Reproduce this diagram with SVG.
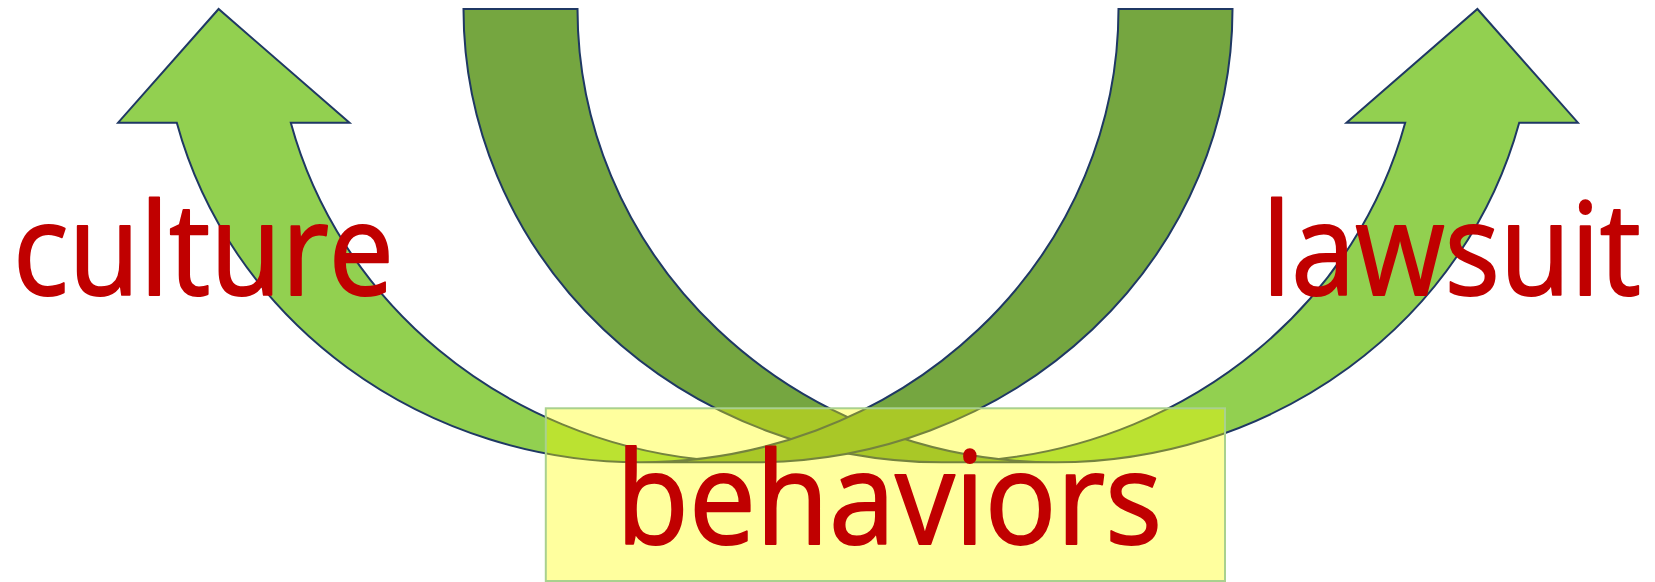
<svg xmlns="http://www.w3.org/2000/svg" width="1655" height="582" viewBox="0 0 1655 582">
  <style>
    .light { fill: #92D050; stroke: none; }
    .dark { fill: #75A640; stroke: none; }
    .edge { fill: none; stroke: #1F3864; stroke-width: 2; stroke-linejoin: miter; }
    .label { font-family: "Open Sans", "Noto Sans", "DejaVu Sans", sans-serif; font-size: 128px; fill: #C00000; stroke: #C00000; stroke-width: 2; stroke-linejoin: round; }
    .box { fill: #FFFF00; fill-opacity: 0.38; stroke: #A9D18E; stroke-width: 2; }
  </style>
  <rect width="1655" height="582" fill="#FFFFFF"/>
  <g id="connectors">
    <g id="arrow-right">
      <path class="light" d="M 1477.4,9 L 1577.9,122.7 L 1519.2,122.7 A 478.5 453.3 0 0 1 1056,462.3 L 942,462.3 A 478.5 453.3 0 0 0 1405.2,122.7 L 1346.5,122.7 Z"/>
      <path class="dark" d="M 942,462.3 A 478.5 453.3 0 0 1 463.5,9 L 577.5,9 A 478.5 453.3 0 0 0 1056,462.3 Z"/>
      <path class="edge" d="M 999,459.07 A 478.5 453.3 0 0 0 1405.2,122.7 L 1346.5,122.7 L 1477.4,9 L 1577.9,122.7 L 1519.2,122.7 A 478.5 453.3 0 0 1 1056,462.3 L 942,462.3 A 478.5 453.3 0 0 1 463.5,9 L 577.5,9 A 478.5 453.3 0 0 0 1056,462.3"/>
    </g>
    <g id="arrow-left">
      <path class="light" d="M 218.6,9 L 118.1,122.7 L 176.8,122.7 A 478.5 453.3 0 0 0 640,462.3 L 754,462.3 A 478.5 453.3 0 0 1 290.8,122.7 L 349.5,122.7 Z"/>
      <path class="dark" d="M 754,462.3 A 478.5 453.3 0 0 0 1232.5,9 L 1118.5,9 A 478.5 453.3 0 0 1 640,462.3 Z"/>
      <path class="edge" d="M 697,459.07 A 478.5 453.3 0 0 1 290.8,122.7 L 349.5,122.7 L 218.6,9 L 118.1,122.7 L 176.8,122.7 A 478.5 453.3 0 0 0 640,462.3 L 754,462.3 A 478.5 453.3 0 0 0 1232.5,9 L 1118.5,9 A 478.5 453.3 0 0 1 640,462.3"/>
    </g>
  </g>
  <g id="culture">
    <text class="label" x="13" y="295" textLength="381" lengthAdjust="spacingAndGlyphs">culture</text>
  </g>
  <g id="lawsuit">
    <text class="label" x="1641" y="295" text-anchor="end" textLength="379" lengthAdjust="spacingAndGlyphs">lawsuit</text>
  </g>
  <g id="behaviors">
    <rect class="box" x="545.8" y="408.3" width="679.2" height="172.7"/>
    <text class="label" x="616" y="544" textLength="546" lengthAdjust="spacingAndGlyphs">behaviors</text>
  </g>
</svg>
